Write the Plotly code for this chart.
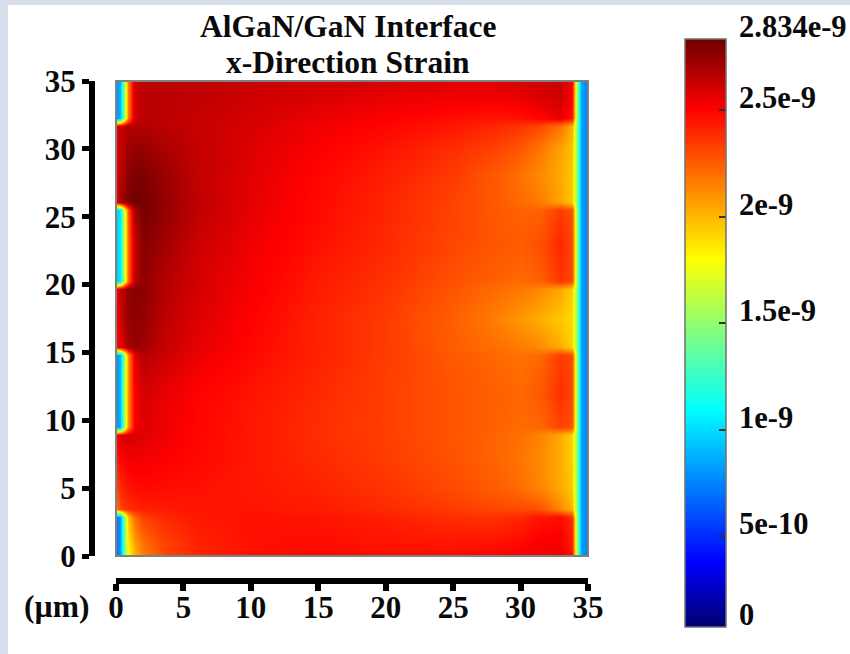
import plotly.graph_objects as go

W, H = 850, 654

title_line_1 = "AlGaN/GaN Interface"
title_line_2 = "x-Direction Strain"
unit_label = "(µm)"
axis_ticks = [0, 5, 10, 15, 20, 25, 30, 35]

# Strain in units of 1e-9 on a hand-chosen irregular grid
x_um = [0, .3, .6, .9, 1.3, 2, 3.5, 6, 10, 15, 20, 25, 28, 30, 31.5, 33, 33.8, 34.2, 34.5, 35]
y_um = [0, 1, 2.9, 3.5, 5, 7, 8.9, 9.5, 12, 14.8, 15.4, 17.5, 19.7, 20.3, 23, 25.5, 26.1, 28, 30, 31.7, 32.3, 34, 35]
strain = [
    [.7, .8, 1.4, 1.8, 2.0, 2.15, 2.3, 2.4, 2.46, 2.48, 2.47, 2.47, 2.5, 2.52, 2.53, 2.55, 2.45, 1.5, .85, .72],
    [.7, .8, 1.4, 1.85, 2.05, 2.2, 2.32, 2.41, 2.46, 2.47, 2.45, 2.44, 2.45, 2.48, 2.52, 2.52, 2.42, 1.5, .85, .72],
    [.7, .8, 1.45, 1.95, 2.2, 2.33, 2.39, 2.44, 2.46, 2.45, 2.42, 2.38, 2.37, 2.4, 2.45, 2.47, 2.38, 1.5, .85, .72],
    [2.15, 2.3, 2.35, 2.38, 2.4, 2.42, 2.43, 2.45, 2.45, 2.43, 2.39, 2.34, 2.31, 2.3, 2.28, 2.12, 2.0, 1.45, .85, .72],
    [2.3, 2.38, 2.42, 2.45, 2.47, 2.48, 2.47, 2.46, 2.44, 2.41, 2.36, 2.3, 2.25, 2.2, 2.13, 2.03, 1.95, 1.45, .85, .72],
    [2.4, 2.48, 2.5, 2.52, 2.52, 2.52, 2.51, 2.48, 2.44, 2.39, 2.34, 2.28, 2.23, 2.18, 2.12, 2.02, 1.93, 1.45, .85, .72],
    [2.5, 2.58, 2.6, 2.6, 2.6, 2.58, 2.54, 2.49, 2.44, 2.38, 2.33, 2.27, 2.23, 2.19, 2.14, 2.02, 1.92, 1.45, .85, .72],
    [.78, .88, 1.5, 2.1, 2.5, 2.58, 2.54, 2.49, 2.44, 2.38, 2.33, 2.27, 2.24, 2.21, 2.22, 2.32, 2.28, 1.5, .85, .72],
    [.78, .9, 1.55, 2.1, 2.5, 2.6, 2.56, 2.5, 2.45, 2.39, 2.33, 2.27, 2.24, 2.22, 2.26, 2.38, 2.3, 1.5, .85, .72],
    [.78, .88, 1.5, 2.1, 2.55, 2.68, 2.62, 2.55, 2.48, 2.41, 2.34, 2.26, 2.22, 2.19, 2.22, 2.34, 2.3, 1.5, .85, .72],
    [2.45, 2.55, 2.62, 2.7, 2.74, 2.72, 2.64, 2.56, 2.49, 2.41, 2.34, 2.25, 2.2, 2.16, 2.12, 2.02, 1.92, 1.45, .85, .72],
    [2.5, 2.6, 2.68, 2.74, 2.76, 2.74, 2.66, 2.58, 2.5, 2.41, 2.34, 2.24, 2.16, 2.09, 2.02, 1.95, 1.9, 1.45, .85, .72],
    [2.5, 2.62, 2.7, 2.76, 2.78, 2.76, 2.68, 2.6, 2.52, 2.43, 2.36, 2.27, 2.21, 2.17, 2.13, 2.04, 1.93, 1.45, .85, .72],
    [.95, 1.05, 1.65, 2.2, 2.65, 2.76, 2.68, 2.6, 2.52, 2.43, 2.37, 2.28, 2.24, 2.21, 2.24, 2.36, 2.3, 1.5, .85, .72],
    [.95, 1.05, 1.65, 2.2, 2.62, 2.78, 2.72, 2.62, 2.54, 2.46, 2.39, 2.31, 2.27, 2.25, 2.29, 2.4, 2.3, 1.5, .85, .72],
    [.95, 1.05, 1.65, 2.25, 2.7, 2.82, 2.75, 2.65, 2.56, 2.48, 2.4, 2.32, 2.26, 2.23, 2.24, 2.34, 2.28, 1.5, .85, .72],
    [2.55, 2.68, 2.76, 2.8, 2.83, 2.82, 2.75, 2.65, 2.56, 2.48, 2.4, 2.32, 2.26, 2.21, 2.16, 2.05, 1.95, 1.45, .85, .72],
    [2.55, 2.65, 2.72, 2.76, 2.8, 2.8, 2.74, 2.64, 2.57, 2.49, 2.42, 2.34, 2.26, 2.19, 2.12, 2.03, 1.95, 1.45, .85, .72],
    [2.55, 2.62, 2.68, 2.72, 2.74, 2.74, 2.7, 2.64, 2.58, 2.51, 2.45, 2.38, 2.32, 2.26, 2.17, 2.05, 1.97, 1.45, .85, .72],
    [2.55, 2.62, 2.66, 2.68, 2.68, 2.68, 2.66, 2.63, 2.59, 2.54, 2.49, 2.44, 2.4, 2.36, 2.3, 2.18, 2.02, 1.45, .85, .72],
    [.78, .88, 1.5, 2.15, 2.6, 2.66, 2.66, 2.63, 2.6, 2.55, 2.51, 2.47, 2.45, 2.46, 2.5, 2.55, 2.45, 1.5, .85, .72],
    [.78, .88, 1.5, 2.15, 2.6, 2.66, 2.66, 2.65, 2.62, 2.59, 2.56, 2.54, 2.54, 2.56, 2.59, 2.62, 2.5, 1.5, .85, .72],
    [.78, .88, 1.5, 2.15, 2.6, 2.66, 2.66, 2.65, 2.63, 2.61, 2.6, 2.58, 2.58, 2.6, 2.62, 2.62, 2.5, 1.5, .85, .72],
]

# Colour bar: value range and labels as printed; the bar is cut just above zero
bar_min, bar_max = 0.075, 2.834
bar_tick_values = [0.075, 0.5, 1.0, 1.5, 2.0, 2.5, 2.834]
bar_tick_text = ["0", "5e-10", "1e-9", "1.5e-9", "2e-9", "2.5e-9", "2.834e-9"]

colorscale = [
    [0.0, "rgb(0,0,110)"],
    [0.11, "rgb(0,0,255)"],
    [0.37, "rgb(0,255,255)"],
    [0.5, "rgb(128,255,128)"],
    [0.625, "rgb(255,255,0)"],
    [0.88, "rgb(255,0,0)"],
    [1.0, "rgb(110,0,0)"],
]

FONT = "Liberation Serif"
BLACK = "#0a0a0a"
text_font = dict(family=FONT, size=31.5, color=BLACK, weight=700)
tick_font = dict(family=FONT, size=31, color=BLACK, weight=700)
bar_font = dict(family=FONT, size=30.5, color=BLACK, weight=700)

BAR_TOP, BAR_BOTTOM = 39, 627

fig = go.Figure(go.Heatmap(
    x=x_um, y=y_um, z=strain,
    zmin=bar_min, zmax=bar_max,
    zsmooth="best",
    colorscale=colorscale,
    colorbar=dict(
        x=685 / W, xanchor="left", xpad=0,
        y=1 - BAR_BOTTOM / H, yanchor="bottom", ypad=0,
        lenmode="pixels", len=BAR_BOTTOM - BAR_TOP,
        thicknessmode="pixels", thickness=41,
        outlinecolor="#707070", outlinewidth=1.5,
        tickmode="array", tickvals=bar_tick_values, ticktext=bar_tick_text,
        ticks="inside", ticklen=7, tickwidth=2, tickcolor="#303030",
        showticklabels=False,
    ),
))


def bar_label(value, text):
    """The printed labels sit about 12 px above their ticks, so they are placed by value."""
    frac = (value - bar_min) / (bar_max - bar_min)
    paper_y = (1 - BAR_BOTTOM / H) + frac * (BAR_BOTTOM - BAR_TOP) / H
    return dict(text=text, xref="paper", yref="paper", x=737 / W, y=paper_y, yshift=12,
                xanchor="left", yanchor="middle", showarrow=False, font=bar_font)


fig.update_layout(
    width=W, height=H,
    margin=dict(l=0, r=0, t=0, b=0, autoexpand=False),
    paper_bgcolor="#d9deec",
    plot_bgcolor="white",
    xaxis=dict(
        domain=[116 / W, 588 / W], range=[0, 35],
        anchor="free", position=1 - 581 / H, side="bottom",
        tickmode="array", tickvals=axis_ticks,
        showgrid=False, zeroline=False,
        showline=True, linecolor="black", linewidth=6,
        ticks="outside", ticklen=7, tickwidth=6, tickcolor="black",
        tickfont=tick_font, ticklabelstandoff=-10,
    ),
    yaxis=dict(
        domain=[1 - 556 / H, 1 - 81 / H], range=[0, 35],
        anchor="free", position=92 / W, side="left",
        tickmode="array", tickvals=axis_ticks,
        showgrid=False, zeroline=False,
        showline=True, linecolor="black", linewidth=6,
        ticks="outside", ticklen=7, tickwidth=5, tickcolor="black",
        tickfont=tick_font,
    ),
    shapes=[
        dict(type="rect", layer="below", xref="paper", yref="paper",
             x0=8 / W, x1=1, y0=0, y1=1 - 5 / H, fillcolor="white", line_width=0),
        dict(type="rect", layer="above", xref="x domain", yref="y domain",
             x0=0, x1=1, y0=0, y1=1, line=dict(color="#808080", width=2)),
    ],
    annotations=[
        dict(text=title_line_1, xref="paper", yref="paper", x=348 / W, y=1 - 26 / H,
             xanchor="center", yanchor="middle", showarrow=False, font=text_font),
        dict(text=title_line_2, xref="paper", yref="paper", x=348 / W, y=1 - 62 / H,
             xanchor="center", yanchor="middle", showarrow=False, font=text_font),
        dict(text=unit_label, xref="paper", yref="paper", x=56 / W, y=1 - 606 / H,
             xanchor="center", yanchor="middle", showarrow=False, font=text_font),
    ] + [bar_label(v, t) for v, t in zip(bar_tick_values, bar_tick_text)],
)

# The page must start at the window corner, as the figure is exactly window sized
fig.write_html("out.html", config={"displayModeBar": False},
               post_script="document.body.style.margin='0';")
